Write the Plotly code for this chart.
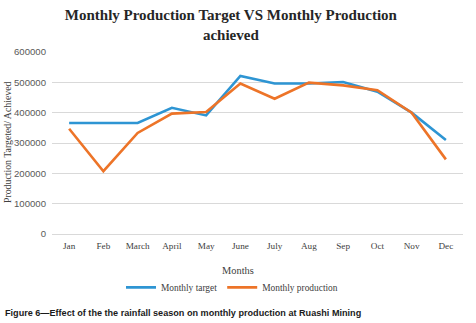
import plotly.graph_objects as go

months = ["Jan", "Feb", "March", "April", "May", "June", "July", "Aug", "Sep", "Oct", "Nov", "Dec"]
monthly_target = [366000, 366000, 366000, 416000, 391000, 521000, 496000, 496000, 501000, 469000, 400000, 310000]
monthly_production = [347000, 207000, 333000, 397000, 402000, 496000, 446000, 499000, 490000, 474000, 400000, 246000]
y_ticks = [0, 100000, 200000, 300000, 400000, 500000, 600000]

serif = "Liberation Serif, Times New Roman, serif"
sans = "Liberation Sans, Arial, sans-serif"

fig = go.Figure()
fig.add_trace(go.Scatter(x=months, y=monthly_target, mode="lines", name="Monthly target",
                         line=dict(color="#2E95D3", width=2.6)))
fig.add_trace(go.Scatter(x=months, y=monthly_production, mode="lines", name="Monthly production",
                         line=dict(color="#ED7428", width=2.6)))

fig.update_layout(
    width=476, height=323,
    margin=dict(l=52, r=13, t=52, b=88.5, autoexpand=False),
    paper_bgcolor="white", plot_bgcolor="white",
    title=dict(text="Monthly Production Target VS Monthly Production<br>achieved",
               x=0.485, xanchor="center", y=1 - 20 / 323, yanchor="top",
               font=dict(family=serif, size=15, color="#262626", weight="bold")),
    showlegend=True,
    legend=dict(orientation="h", x=(121 - 52) / 411, xanchor="left", y=-(288 - 234.5) / 182.5,
                yanchor="middle",
                font=dict(family=serif, size=9.4, color="#404040"),
                itemwidth=30, bgcolor="rgba(0,0,0,0)", traceorder="normal"),
    xaxis=dict(type="category", range=[-0.5, 11.5], showgrid=False, zeroline=False, showline=False,
               ticks="", ticklabelstandoff=5,
               tickfont=dict(family=serif, size=9.2, color="#404040")),
    yaxis=dict(range=[0, 600000], tickvals=y_ticks, ticktext=[str(v) for v in y_ticks],
               showgrid=True, gridcolor="#D9D9D9", gridwidth=1, zeroline=True,
               zerolinecolor="#D9D9D9", zerolinewidth=1, showline=False, ticks="",
               ticklabelstandoff=5,
               tickfont=dict(family=sans, size=9.6, color="#595959")),
)

fig.add_annotation(text="Production Targeted/ Achieved", xref="paper", yref="paper",
                   x=(7 - 52) / 411, y=0.5, xanchor="center", yanchor="middle", textangle=-90,
                   showarrow=False, font=dict(family=serif, size=9.8, color="#404040"))
fig.add_annotation(text="Months", xref="paper", yref="paper",
                   x=(238 - 52) / 411, y=-(271 - 234.5) / 182.5, xanchor="center", yanchor="middle",
                   showarrow=False, font=dict(family=serif, size=10.4, color="#404040"))
fig.add_annotation(text="<b>Figure 6\u2014Effect of the the rainfall season on monthly production at Ruashi Mining</b>",
                   xref="paper", yref="paper", x=-(52 - 3) / 411, y=-(314 - 234.5) / 182.5,
                   xanchor="left", yanchor="middle", showarrow=False,
                   font=dict(family=sans, size=9.1, color="#1a1a1a"))

fig.write_html("out.html", config={"displayModeBar": False},
               post_script="document.body.style.margin='0';")
